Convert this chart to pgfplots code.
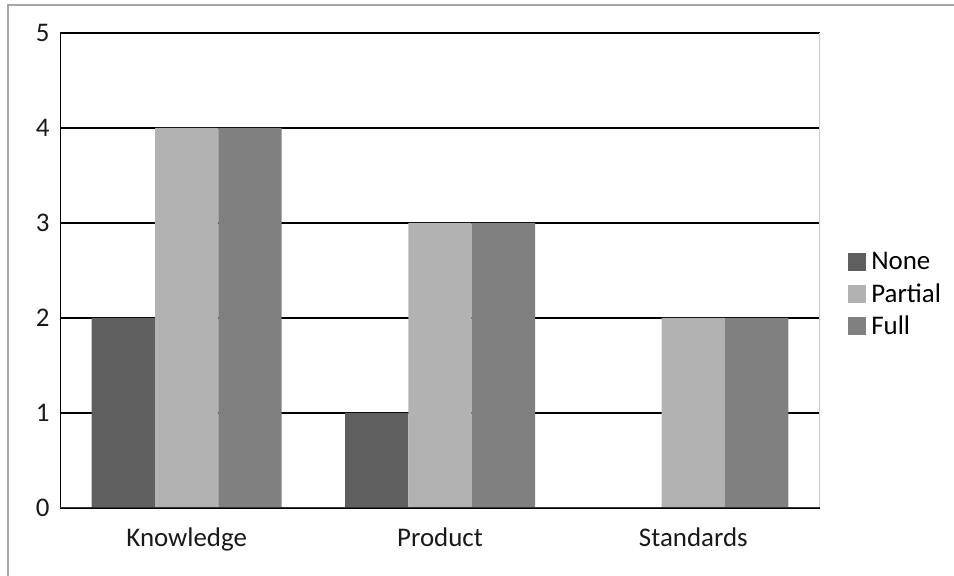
\documentclass[border=0pt]{standalone}
\usepackage{pgfplots}
\pgfplotsset{compat=1.18}
\usepackage{fontspec}
\setmainfont{Carlito}
\definecolor{cnone}{HTML}{5F5F5F}
\definecolor{cpartial}{HTML}{B2B2B2}
\definecolor{cfull}{HTML}{808080}
\begin{document}
\begin{tikzpicture}[x=1bp,y=1bp]
\useasboundingbox (0,0) rectangle (954,576);
\draw[gray!70, line width=1.2bp] (8,0) -- (8,571) -- (954,571);
\begin{axis}[
  at={(60bp,68bp)}, anchor=south west,
  scale only axis, width=760bp, height=475bp,
  xmin=-0.5, xmax=2.5, ymin=0, ymax=5,
  xtick={0,1,2}, xticklabels={Knowledge,Product,Standards},
  ytick={0,1,2,3,4,5},
  major tick length=0pt,
  ymajorgrids, major grid style={black, line width=1.4bp},
  axis line style={draw=none},
  ybar, bar width=0.25,
  font=\fontsize{27}{31}\selectfont,
  tick label style={font=\fontsize{27}{31}\selectfont, text=black!90},
  /pgf/number format/assume math mode=true,
  yticklabel style={anchor=east, xshift=-7bp},
  xticklabel style={anchor=north, yshift=-16bp},
  legend style={draw=none, fill=none, at={(rel axis cs:1.033,0.45)}, anchor=west,
    font=\fontsize{27}{31}\selectfont, row sep=8bp,
    /tikz/every odd column/.append style={column sep=3bp}},
  legend image code/.code={\fill[#1] (0bp,-9bp) rectangle (18bp,9bp);},
  legend cell align=left,
]
\addplot[fill=cnone, draw=none, bar shift=-0.25] coordinates {(0,2) (1,1) (2,0)};
\addplot[fill=cpartial, draw=none, bar shift=0] coordinates {(0,4) (1,3) (2,2)};
\addplot[fill=cfull, draw=none, bar shift=0.25] coordinates {(0,4) (1,3) (2,2)};
\legend{None,Partial,Full}
\draw[black, line width=1.6bp] (rel axis cs:0,0) -- (rel axis cs:0,1);
\draw[gray!40, line width=1.2bp] (rel axis cs:1,0) -- (rel axis cs:1,1);
\draw[black!80, line width=1.2bp] (rel axis cs:0,0) -- (rel axis cs:1,0);
\end{axis}
\end{tikzpicture}
\end{document}
